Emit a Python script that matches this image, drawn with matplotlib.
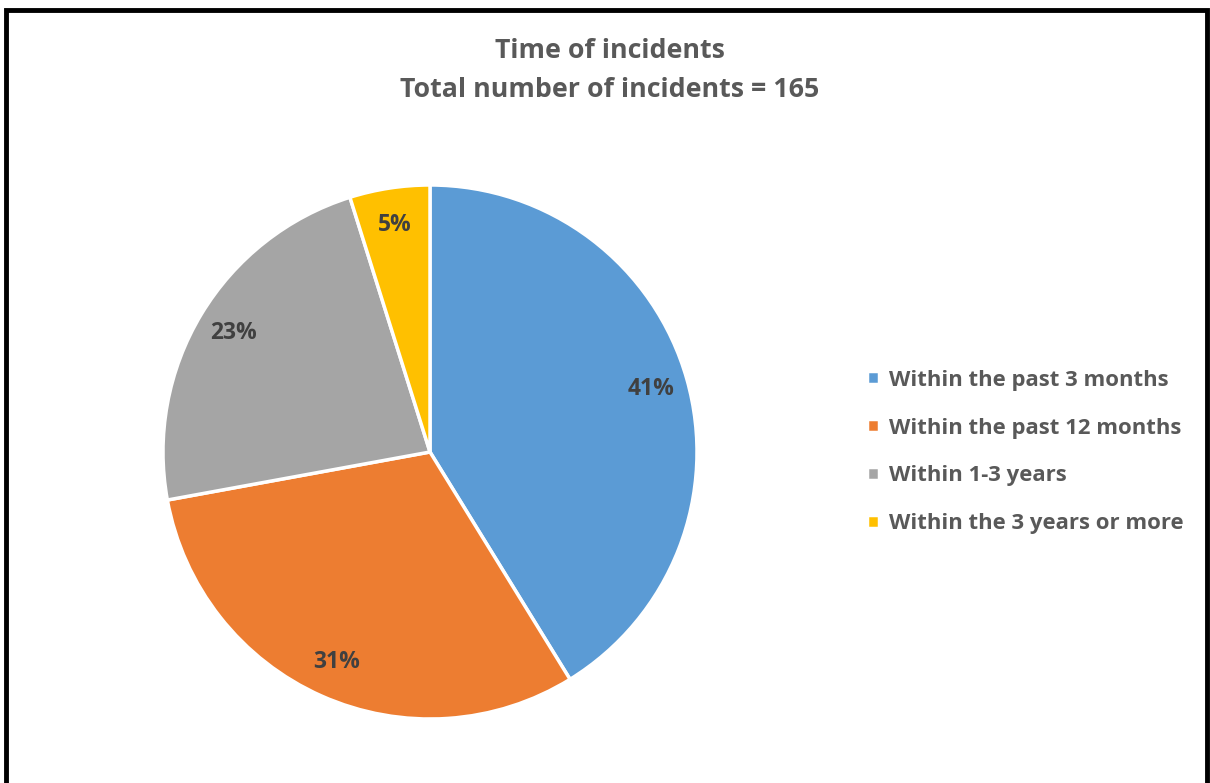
import matplotlib
matplotlib.use('Agg')
import matplotlib.pyplot as plt
from matplotlib.patches import Rectangle

# incident counts (total 165)
labels = ['Within the past 3 months', 'Within the past 12 months',
          'Within 1-3 years', 'Within the 3 years or more']
counts = [68, 51, 38, 8]
colors = ['#5B9BD5', '#ED7D31', '#A5A5A5', '#FFC000']

plt.rcParams['font.family'] = ['Open Sans', 'DejaVu Sans']

W, H = 1210, 783
fig = plt.figure(figsize=(W / 100, H / 100), dpi=100)
fig.patch.set_facecolor('white')

# pie axes: centre (430, 452) px, radius 267 px
cx, cy, r = 430, 452, 267
ax = fig.add_axes([(cx - r) / W, (H - cy - r) / H, 2 * r / W, 2 * r / H])
wedges, texts, autotexts = ax.pie(
    counts, colors=colors, startangle=90, counterclock=False,
    autopct='%.0f%%', pctdistance=0.86,
    wedgeprops={'edgecolor': 'white', 'linewidth': 2.5},
    textprops={'fontsize': 16.5, 'fontweight': 'bold', 'color': '#404040'})
ax.set_xlim(-1, 1)
ax.set_ylim(-1, 1)

fig.text(610 / W, 1 - 51 / H, 'Time of incidents', ha='center', va='center',
         fontsize=19.3, fontweight='bold', color='#595959')
fig.text(610 / W, 1 - 90 / H, 'Total number of incidents = 165', ha='center',
         va='center', fontsize=19.3, fontweight='bold', color='#595959')

leg = fig.legend(wedges, labels, loc='center left',
                 bbox_to_anchor=(847 / W, 1 - 452 / H), frameon=False,
                 fontsize=15.9, handlelength=0.55, handleheight=0.55,
                 handletextpad=0.45, labelspacing=1.22)
for t in leg.get_texts():
    t.set_color('#595959')
    t.set_fontweight('bold')

# outer border (bottom edge cut off)
fig.patches.append(Rectangle((6 / W, -0.05), 1201 / W, 1 - 10 / H + 0.05,
                             transform=fig.transFigure, fill=False,
                             edgecolor='black', linewidth=3.5))

fig.savefig('out.png', dpi=100)
